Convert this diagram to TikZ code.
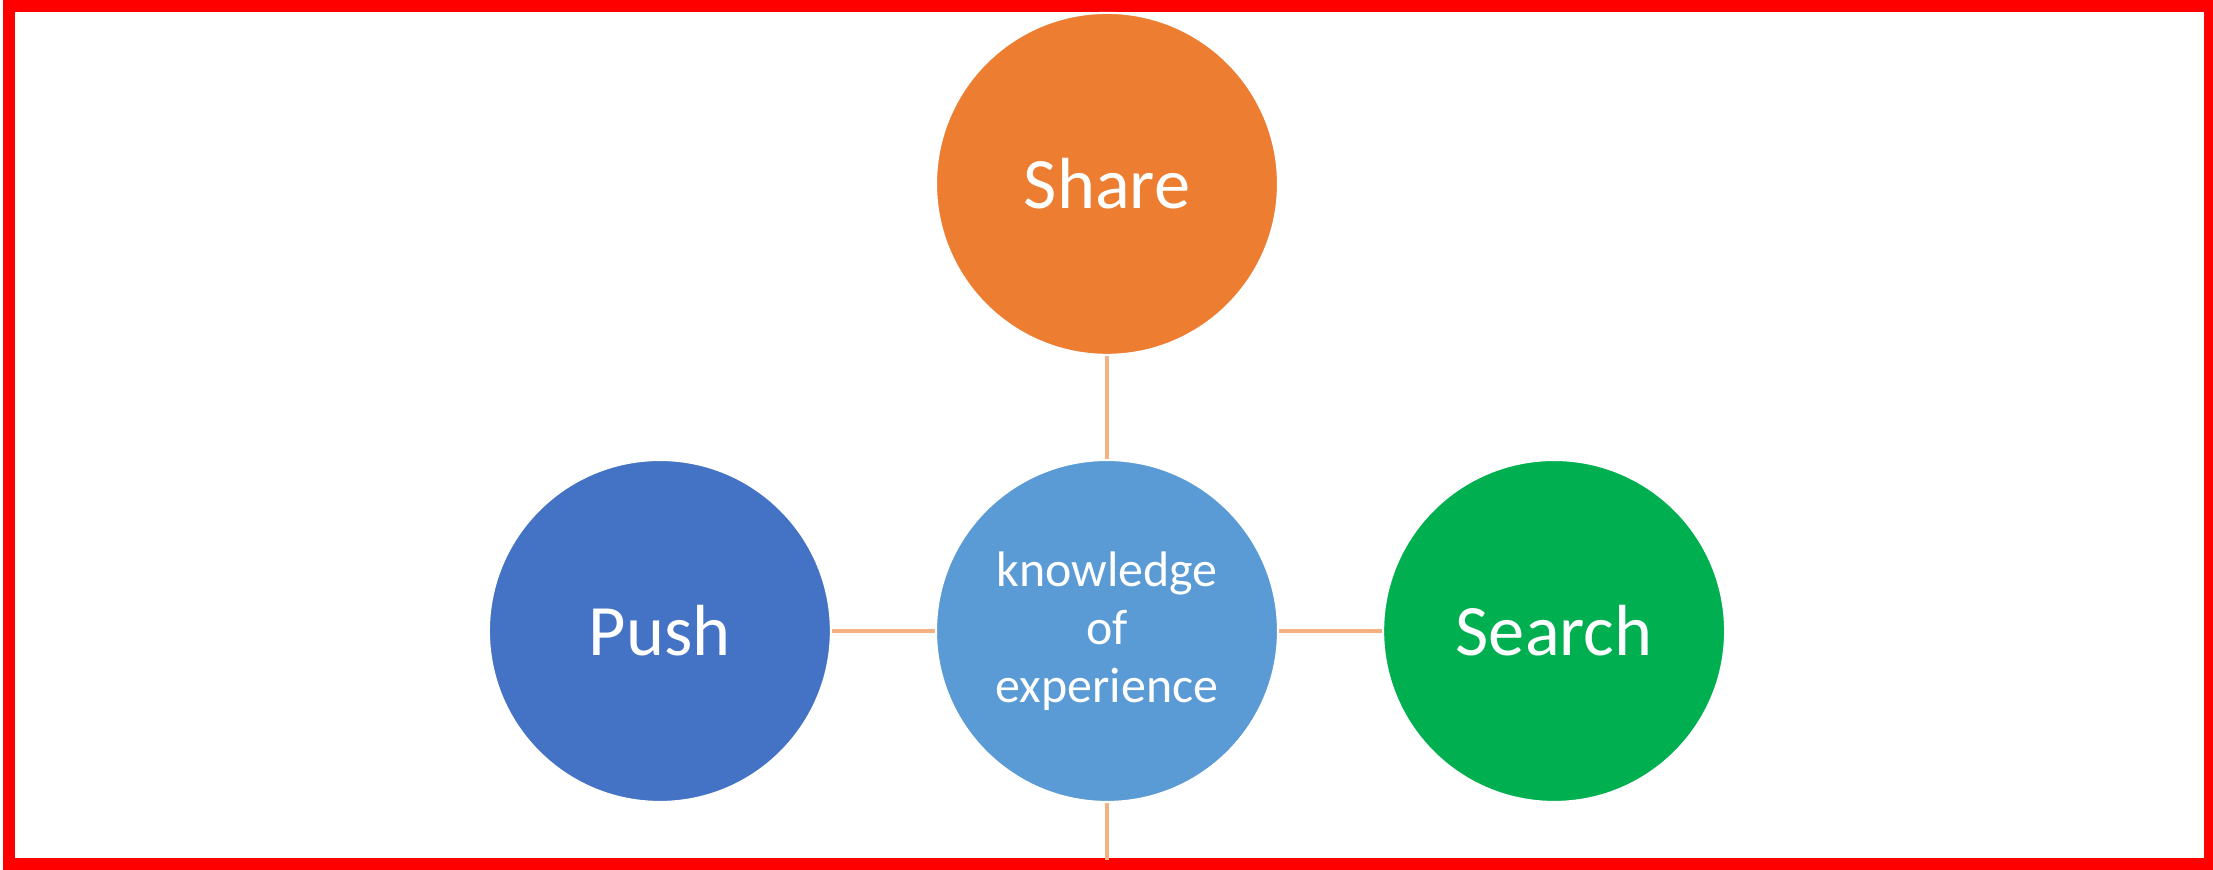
\documentclass[tikz,border=0pt]{standalone}
\usepackage{fontspec}
\setmainfont{Carlito}
\usepackage{xcolor}
\usetikzlibrary{positioning}

\definecolor{shareorange}{HTML}{ED7D31}
\definecolor{hubblue}{HTML}{5B9BD5}
\definecolor{pushblue}{HTML}{4472C4}
\definecolor{searchgreen}{HTML}{00B050}
\definecolor{linkpeach}{HTML}{F4B183}

\begin{document}
\begin{tikzpicture}[
  node distance=1.03cm,
  bubble/.style={circle, draw=white, line width=0.6pt, minimum size=3.42cm, inner sep=0pt,
    text=white, font=\fontsize{20.6}{24}\selectfont, align=center},
  link/.style={linkpeach, line width=0.9pt}
]
\useasboundingbox (0,0) rectangle (22.13,8.70);

% frame
\draw[red, line width=0.12cm] (0.09,0.06) rectangle (22.10,8.64);

% nodes
\node[bubble, fill=hubblue, font=\fontsize{14.2}{16.5}\selectfont] (hub) at (11.07,2.39) {knowledge\\of\\experience};
\node[bubble, fill=shareorange, above=of hub] (share) {Share};
\node[bubble, fill=pushblue, left=of hub] (push) {Push};
\node[bubble, fill=searchgreen, right=of hub] (search) {Search};
\coordinate (base) at (11.07,0.1);

% links
\draw[link] (share) -- (hub);
\draw[link] (push) -- (hub);
\draw[link] (hub) -- (search);
\draw[link] (hub) -- (base);
\end{tikzpicture}
\end{document}
